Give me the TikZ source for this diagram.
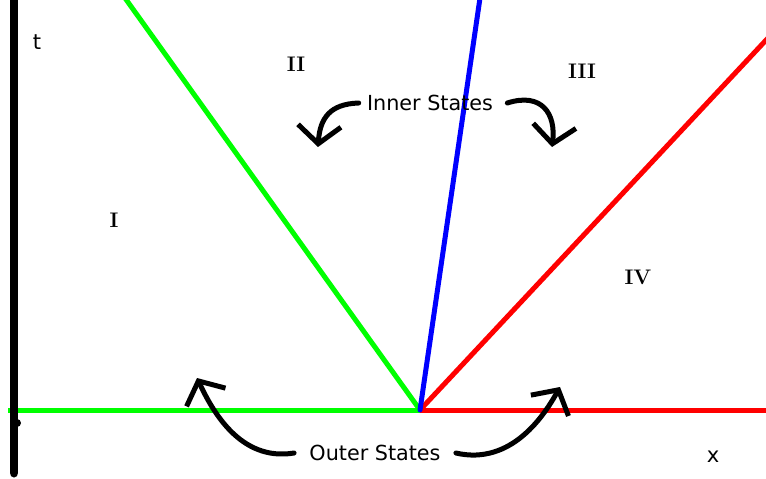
\documentclass[tikz,border=0pt]{standalone}
\usepackage{fontspec}
\setsansfont{DejaVu Sans}
\definecolor{waveGreen}{RGB}{0,255,0}
\definecolor{waveRed}{RGB}{255,0,0}
\definecolor{waveBlue}{RGB}{0,0,255}
\usetikzlibrary{arrows.meta,positioning}

\begin{document}
\begin{tikzpicture}[x=0.02cm,y=-0.02cm,>={Straight Barb[length=0.36cm,width=0.86cm]},
    wave/.style={line width=0.1cm},
    hand/.style={draw,line width=0.1cm,line cap=round,->},
    statelbl/.style={font=\sffamily\fontsize{11.8}{14}\selectfont,inner sep=0pt},
    axislbl/.style={font=\sffamily\fontsize{12}{14}\selectfont},
    region/.style={font=\rmfamily\bfseries\fontsize{12}{14}\selectfont}]
  \useasboundingbox (0,0) rectangle (766,479);
  %% Fan of waves from the origin
  \coordinate (O) at (420,410);
  \coordinate (L) at (8,410);
  \coordinate (R) at (766,410);
  \draw[wave,waveGreen] (L) -- (O);
  \draw[wave,waveRed] (O) -- (R);
  \draw[wave,waveGreen] (O) -- (125,-2);
  \draw[wave,waveRed] (O) -- (768,38);
  \draw[wave,waveBlue,line cap=round] (O) -- (480,-2);
  %% t axis
  \draw[line width=0.18cm,line cap=round] (14,-5) -- (14,473);
  \fill (17,423) circle (4);
  \node[axislbl] (t) at (37,42) {t};
  \node[axislbl] (x) at (713,457) {x};
  %% Regions
  \node[region] (r1) at (114,220) {I};
  \node[region] (r2) at (296,64) {II};
  \node[region] (r3) at (582,71) {III};
  \node[region] (r4) at (638,277) {IV};
  %% Inner states
  \node[statelbl] (inner) at (430,103) {Inner States};
  \coordinate (innerL) at (318,147);
  \coordinate (innerR) at (552,147);
  \path[hand] ([xshift=-0.16cm]inner.west) .. controls (330,104) and (320,118) .. (innerL);
  \path[hand] ([xshift=0.28cm]inner.east) .. controls (542,92) and (556,114) .. (innerR);
  %% Outer states
  \node[statelbl] (outer) at (375,453) {Outer States};
  \coordinate (outerL) at (197,378);
  \coordinate (outerR) at (560,387);
  \path[hand] ([xshift=-0.3cm]outer.west) .. controls (240,462) and (212,410) .. (outerL);
  \path[hand] ([xshift=0.3cm]outer.east) .. controls (512,466) and (545,414) .. (outerR);
\end{tikzpicture}
\end{document}
